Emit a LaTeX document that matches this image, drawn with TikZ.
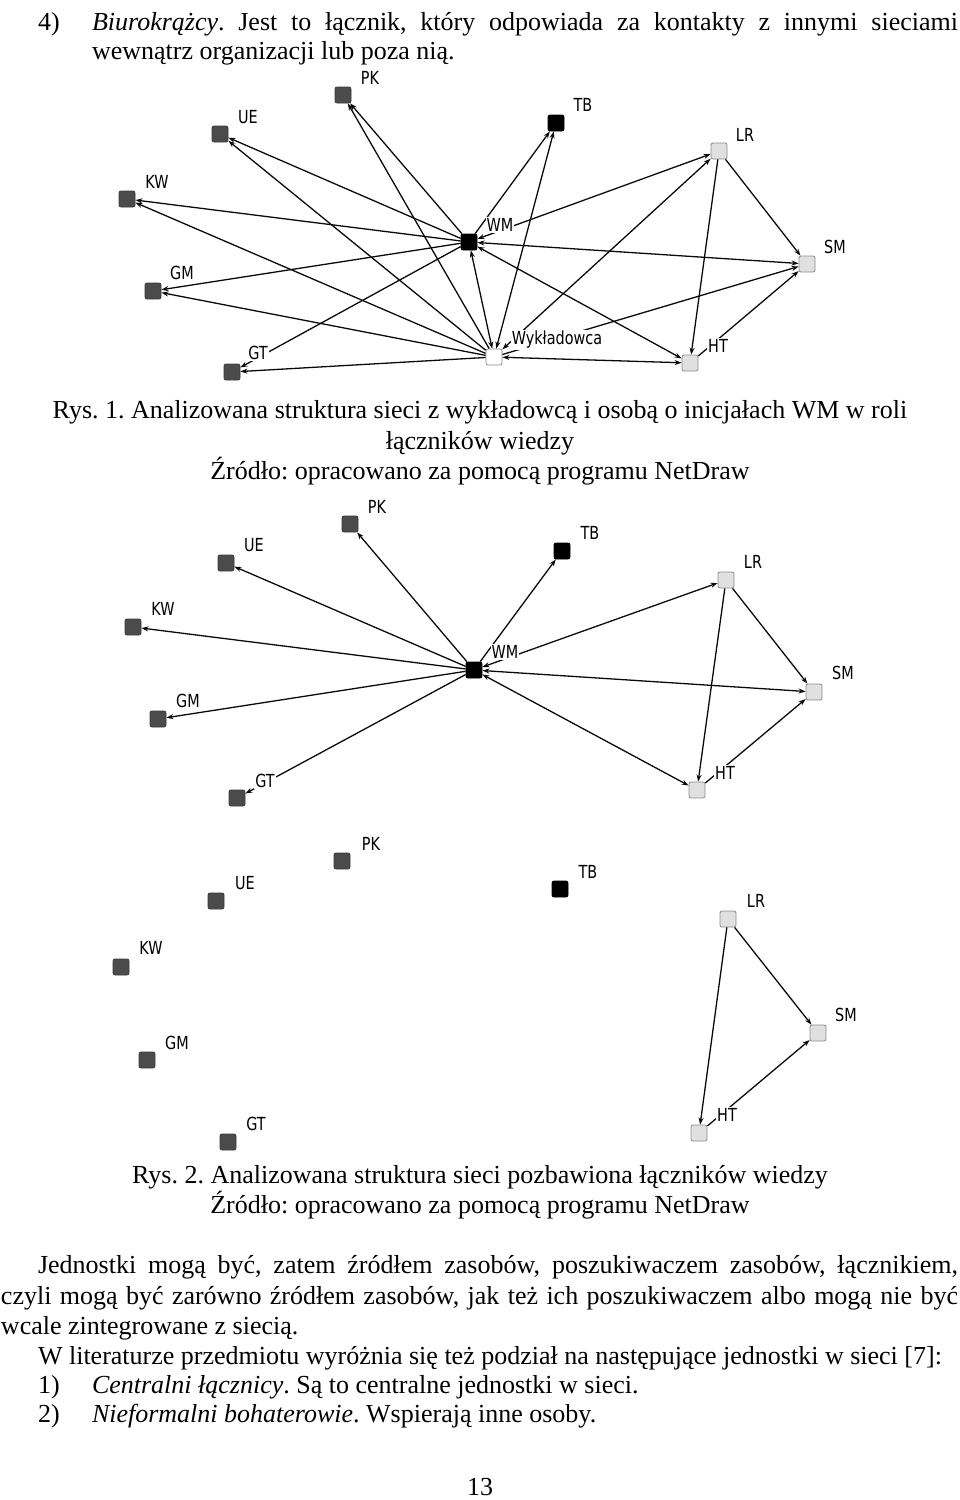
\documentclass[tikz,border=0pt]{standalone}
\usepackage{fontspec}
\setmainfont{Liberation Serif}
\newfontfamily\lblfont[FakeStretch=0.8]{DejaVu Sans}
\usetikzlibrary{arrows.meta}
\frenchspacing
\definecolor{ndark}{HTML}{4B4B4B}
\definecolor{ndarkb}{HTML}{3A3A3A}
\definecolor{nlight}{HTML}{E0E0E0}
\definecolor{nlightb}{HTML}{8C8C8C}
\definecolor{edgec}{HTML}{0A0A0A}
\tikzset{
  sq/.style={rectangle, minimum size=16pt, inner sep=0pt, rounded corners=2pt, line width=0.8pt},
  dk/.style={sq, fill=ndark, draw=ndarkb},
  bk/.style={sq, fill=black, draw=black},
  wh/.style={sq, fill=white, draw=nlightb},
  lt/.style={sq, fill=nlight, draw=nlightb},
  lbl/.style={font=\lblfont\fontsize{18}{18}\selectfont, fill=white, inner sep=1pt, text=black},
  ed/.style={draw=edgec, line width=1.3pt, -{Stealth[length=7pt,width=5pt]}},
  bed/.style={draw=edgec, line width=1.3pt, {Stealth[length=7pt,width=5pt]}-{Stealth[length=7pt,width=5pt]}},
  txt/.style={font=\fontsize{26}{30}\selectfont, inner sep=0pt, outer sep=0pt}
}
\begin{document}
\begin{tikzpicture}[x=1pt,y=-1pt]
\useasboundingbox (0,0) rectangle (960,1500);

% ---------- top text ----------
\node[txt, anchor=base west] (t1n) at (38,30) {4)};
\node[txt, anchor=base west] (t1) at (92,30) {\makebox[866pt][s]{\textit{Biurokrążcy}. Jest to łącznik, który odpowiada za kontakty z innymi sieciami}};
\node[txt, anchor=base west] (t2) at (92,59) {wewnątrz organizacji lub poza nią.};

% ---------- graph 1 ----------
\node[dk] (aPK) at (343,95) {};
\node[dk] (aUE) at (220,134) {};
\node[dk] (aKW) at (127,199) {};
\node[dk] (aGM) at (153,291) {};
\node[dk] (aGT) at (232,372) {};
\node[bk] (aWM) at (469,242) {};
\node[wh] (aWY) at (494,357) {};
\node[bk] (aTB) at (556,123) {};
\node[lt] (aLR) at (719,151) {};
\node[lt] (aSM) at (807,264) {};
\node[lt] (aHT) at (690,363) {};

\draw[ed] (aWM) -- (aPK);
\draw[ed] (aWM) -- (aUE);
\draw[ed] (aWM) -- (aKW);
\draw[ed] (aWM) -- (aGM);
\draw[ed] (aWM) -- (aGT);
\draw[ed] (aWM) -- (aTB);
\draw[ed] (aWY) -- (aPK);
\draw[ed] (aWY) -- (aUE);
\draw[ed] (aWY) -- (aKW);
\draw[ed] (aWY) -- (aGM);
\draw[ed] (aWY) -- (aGT);
\draw[bed] (aWY) -- (aTB);
\draw[bed] (aWM) -- (aWY);
\draw[bed] (aWM) -- (aLR);
\draw[bed] (aWM) -- (aSM);
\draw[bed] (aWM) -- (aHT);
\draw[bed] (aWY) -- (aLR);
\draw[ed] (aWY) -- (aSM);
\draw[bed] (aWY) -- (aHT);
\draw[ed] (aLR) -- (aSM);
\draw[ed] (aLR) -- (aHT);
\draw[ed] (aHT) -- (aSM);

\node[lbl] (aPKl) at (370,78) {PK};
\node[lbl] (aUEl) at (248,117) {UE};
\node[lbl] (aKWl) at (157,182) {KW};
\node[lbl] (aGMl) at (182,273) {GM};
\node[lbl] (aGTl) at (258,353) {GT};
\node[lbl] (aWMl) at (500,225) {WM};
\node[lbl] (aWYl) at (557,340) {Wykładowca};
\node[lbl] (aTBl) at (583,105) {TB};
\node[lbl] (aLRl) at (745,135) {LR};
\node[lbl] (aSMl) at (835,247) {SM};
\node[lbl] (aHTl) at (718,346) {HT};

% ---------- caption 1 ----------
\node[txt, anchor=base] (c1a) at (480,418) {Rys. 1. Analizowana struktura sieci z wykładowcą i osobą o inicjałach WM w roli};
\node[txt, anchor=base] (c1b) at (480,449) {łączników wiedzy};
\node[txt, anchor=base] (c1c) at (480,479) {Źródło: opracowano za pomocą programu NetDraw};

% ---------- graph 2 ----------
\node[dk] (bPK) at (350,524) {};
\node[dk] (bUE) at (226,563) {};
\node[dk] (bKW) at (133,627) {};
\node[dk] (bGM) at (158,719) {};
\node[dk] (bGT) at (237,798) {};
\node[bk] (bWM) at (474,670) {};
\node[bk] (bTB) at (562,551) {};
\node[lt] (bLR) at (726,580) {};
\node[lt] (bSM) at (814,692) {};
\node[lt] (bHT) at (697,790) {};

\draw[ed] (bWM) -- (bPK);
\draw[ed] (bWM) -- (bUE);
\draw[ed] (bWM) -- (bKW);
\draw[ed] (bWM) -- (bGM);
\draw[ed] (bWM) -- (bGT);
\draw[ed] (bWM) -- (bTB);
\draw[bed] (bWM) -- (bLR);
\draw[bed] (bWM) -- (bSM);
\draw[bed] (bWM) -- (bHT);
\draw[ed] (bLR) -- (bSM);
\draw[ed] (bLR) -- (bHT);
\draw[ed] (bHT) -- (bSM);

\node[lbl] (bPKl) at (377,507) {PK};
\node[lbl] (bUEl) at (254,545) {UE};
\node[lbl] (bKWl) at (163,609) {KW};
\node[lbl] (bGMl) at (188,701) {GM};
\node[lbl] (bGTl) at (265,781) {GT};
\node[lbl] (bWMl) at (505,652) {WM};
\node[lbl] (bTBl) at (590,533) {TB};
\node[lbl] (bLRl) at (753,562) {LR};
\node[lbl] (bSMl) at (843,673) {SM};
\node[lbl] (bHTl) at (725,773) {HT};

% ---------- graph 3 ----------
\node[dk] (cPK) at (342,861) {};
\node[dk] (cUE) at (216,901) {};
\node[dk] (cKW) at (121,967) {};
\node[dk] (cGM) at (147,1060) {};
\node[dk] (cGT) at (228,1142) {};
\node[bk] (cTB) at (560,889) {};
\node[lt] (cLR) at (728,919) {};
\node[lt] (cSM) at (818,1033) {};
\node[lt] (cHT) at (699,1133) {};

\draw[ed] (cLR) -- (cSM);
\draw[ed] (cLR) -- (cHT);
\draw[ed] (cHT) -- (cSM);

\node[lbl] (cPKl) at (371,844) {PK};
\node[lbl] (cUEl) at (245,883) {UE};
\node[lbl] (cKWl) at (151,948) {KW};
\node[lbl] (cGMl) at (177,1043) {GM};
\node[lbl] (cGTl) at (256,1124) {GT};
\node[lbl] (cTBl) at (588,872) {TB};
\node[lbl] (cLRl) at (756,901) {LR};
\node[lbl] (cSMl) at (846,1015) {SM};
\node[lbl] (cHTl) at (727,1115) {HT};

% ---------- caption 2 ----------
\node[txt, anchor=base] (c2a) at (480,1183) {Rys. 2. Analizowana struktura sieci pozbawiona łączników wiedzy};
\node[txt, anchor=base] (c2b) at (480,1213) {Źródło: opracowano za pomocą programu NetDraw};

% ---------- body text ----------
\node[txt, anchor=base west] (p1) at (38,1273) {\makebox[920pt][s]{Jednostki mogą być, zatem źródłem zasobów, poszukiwaczem zasobów, łącznikiem,}};
\node[txt, anchor=base west] (p2) at (1,1304) {\makebox[957pt][s]{czyli mogą być zarówno źródłem zasobów, jak też ich poszukiwaczem albo mogą nie być}};
\node[txt, anchor=base west] (p3) at (1,1334) {wcale zintegrowane z siecią.};
\node[txt, anchor=base west] (p4) at (38,1364) {W literaturze przedmiotu wyróżnia się też podział na następujące jednostki w sieci [7]:};
\node[txt, anchor=base west] (p5n) at (38,1393) {1)};
\node[txt, anchor=base west] (p5) at (92,1393) {\textit{Centralni łącznicy}. Są to centralne jednostki w sieci.};
\node[txt, anchor=base west] (p6n) at (38,1422) {2)};
\node[txt, anchor=base west] (p6) at (92,1422) {\textit{Nieformalni bohaterowie}. Wspierają inne osoby.};

\node[txt, anchor=base] (pg) at (480,1495) {13};
\end{tikzpicture}
\end{document}
